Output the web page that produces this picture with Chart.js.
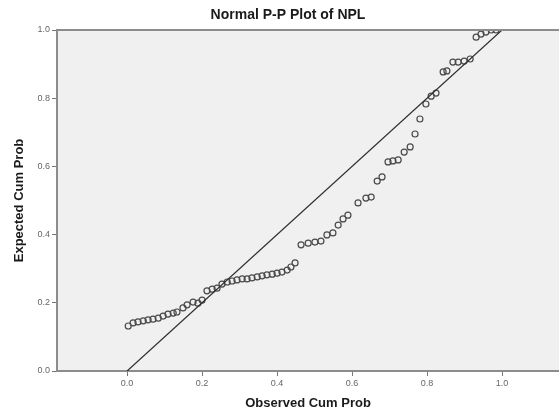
<!DOCTYPE html>
<html>
<head>
<meta charset="utf-8">
<script src="https://cdn.jsdelivr.net/npm/chart.js@4/dist/chart.umd.min.js"></script>
<style>
    html, body { margin: 0; padding: 0; background: #fff; }
    #wrap { width: 559px; height: 411px; }
</style>
</head>
<body>
<div id="wrap"><canvas id="pp-chart" width="559" height="411"></canvas></div>
<script>
// observed vs expected cumulative probability
const obsCumProb = [
    0.003, 0.016, 0.029, 0.043, 0.056, 0.069, 0.083, 0.096, 0.109, 0.123,
    0.133, 0.149, 0.160, 0.176, 0.189, 0.200, 0.213, 0.227, 0.240, 0.253,
    0.267, 0.280, 0.293, 0.307, 0.320, 0.333, 0.347, 0.360, 0.373, 0.387,
    0.400, 0.413, 0.427, 0.437, 0.448, 0.464, 0.483, 0.501, 0.517, 0.533,
    0.549, 0.563, 0.576, 0.589, 0.616, 0.637, 0.651, 0.667, 0.680, 0.696,
    0.709, 0.723, 0.739, 0.755, 0.768, 0.781, 0.797, 0.811, 0.824, 0.843,
    0.853, 0.869, 0.883, 0.899, 0.915, 0.931, 0.944, 0.957, 0.971, 0.984
];
const expCumProb = [
    0.132, 0.141, 0.144, 0.147, 0.150, 0.152, 0.155, 0.161, 0.167, 0.170,
    0.173, 0.185, 0.194, 0.202, 0.199, 0.208, 0.235, 0.240, 0.243, 0.255,
    0.261, 0.264, 0.267, 0.270, 0.270, 0.273, 0.276, 0.279, 0.282, 0.284,
    0.287, 0.290, 0.296, 0.305, 0.317, 0.370, 0.375, 0.378, 0.381, 0.399,
    0.405, 0.428, 0.446, 0.457, 0.493, 0.507, 0.510, 0.557, 0.569, 0.613,
    0.616, 0.619, 0.642, 0.657, 0.695, 0.739, 0.783, 0.806, 0.815, 0.877,
    0.880, 0.906, 0.906, 0.909, 0.915, 0.979, 0.988, 0.994, 1.000, 1.000
];
// reference diagonal
const refLineX = [0, 1];
const refLineY = [0, 1];
const xTicks = [0, 0.2, 0.4, 0.6, 0.8, 1.0];
const chartTitle = 'Normal P-P Plot of NPL';

const FONT = "'Liberation Sans', Arial, sans-serif";

const plotBackground = {
    id: 'plotBackground',
    beforeDraw(chart) {
        const { ctx, chartArea: a } = chart;
        ctx.save();
        ctx.fillStyle = '#ffffff';
        ctx.fillRect(0, 0, chart.width, chart.height);
        ctx.fillStyle = '#f0f0f0';
        ctx.fillRect(a.left, a.top, a.right - a.left, a.bottom - a.top);
        ctx.restore();
    },
    afterDraw(chart) {
        const { ctx, chartArea: a } = chart;
        ctx.save();
        // frame line along the top of the plot
        ctx.strokeStyle = '#8c8c8c';
        ctx.lineWidth = 2;
        ctx.beginPath();
        ctx.moveTo(a.left, a.top);
        ctx.lineTo(a.right, a.top);
        ctx.stroke();
        // title sits a bit right of the canvas centre, like the SPSS output
        ctx.fillStyle = '#1a1a1a';
        ctx.font = `bold 14px ${FONT}`;
        ctx.textAlign = 'center';
        ctx.textBaseline = 'middle';
        ctx.fillText(chartTitle, 288, 15);
        ctx.restore();
    }
};

const ctx = document.getElementById('pp-chart').getContext('2d');
new Chart(ctx, {
    type: 'scatter',
    data: {
        datasets: [
            {
                label: 'Observed',
                data: obsCumProb.map((x, i) => ({ x, y: expCumProb[i] })),
                pointRadius: 3,
                pointBorderWidth: 1.2,
                borderColor: '#4a4a4a',
                backgroundColor: 'rgba(0,0,0,0)',
                showLine: false,
                order: 2,
            },
            {
                label: 'Reference',
                data: refLineX.map((x, i) => ({ x, y: refLineY[i] })),
                showLine: true,
                pointRadius: 0,
                borderColor: '#2e2e2e',
                borderWidth: 1.2,
                order: 1,
            }
        ]
    },
    options: {
        responsive: false,
        animation: false,
        layout: { padding: { top: 30, left: 0, right: 0, bottom: 0 }, autoPadding: false },
        plugins: {
            legend: { display: false },
            tooltip: { enabled: false },
            title: { display: false },
        },
        scales: {
            x: {
                type: 'linear',
                min: -0.187,
                max: 1.152,
                afterBuildTicks: (axis) => {
                    axis.ticks = xTicks.map(v => ({ value: v }));
                },
                afterFit: (axis) => { axis.height = 40; },
                ticks: {
                    color: '#666',
                    font: { family: FONT, size: 9 },
                    padding: 2,
                    maxRotation: 0,
                    callback: v => v.toFixed(1),
                },
                grid: {
                    drawOnChartArea: false,
                    drawTicks: true,
                    tickLength: 5,
                    color: '#777',
                },
                border: { color: '#8c8c8c', width: 2 },
                title: {
                    display: true,
                    text: 'Observed Cum Prob',
                    color: '#1a1a1a',
                    font: { family: FONT, size: 13, weight: 'bold' },
                    padding: { top: 4, bottom: 0 },
                },
            },
            y: {
                type: 'linear',
                min: 0,
                max: 1,
                afterFit: (axis) => { axis.width = 57; },
                ticks: {
                    stepSize: 0.2,
                    color: '#666',
                    font: { family: FONT, size: 9 },
                    padding: 2,
                    callback: v => v.toFixed(1),
                },
                grid: {
                    drawOnChartArea: false,
                    drawTicks: true,
                    tickLength: 5,
                    color: '#777',
                },
                border: { color: '#8c8c8c', width: 2 },
                title: {
                    display: true,
                    text: 'Expected Cum Prob',
                    color: '#1a1a1a',
                    font: { family: FONT, size: 13, weight: 'bold' },
                    padding: { top: 12, bottom: 4 },
                },
            },
        },
    },
    plugins: [plotBackground],
});
</script>
</body>
</html>
